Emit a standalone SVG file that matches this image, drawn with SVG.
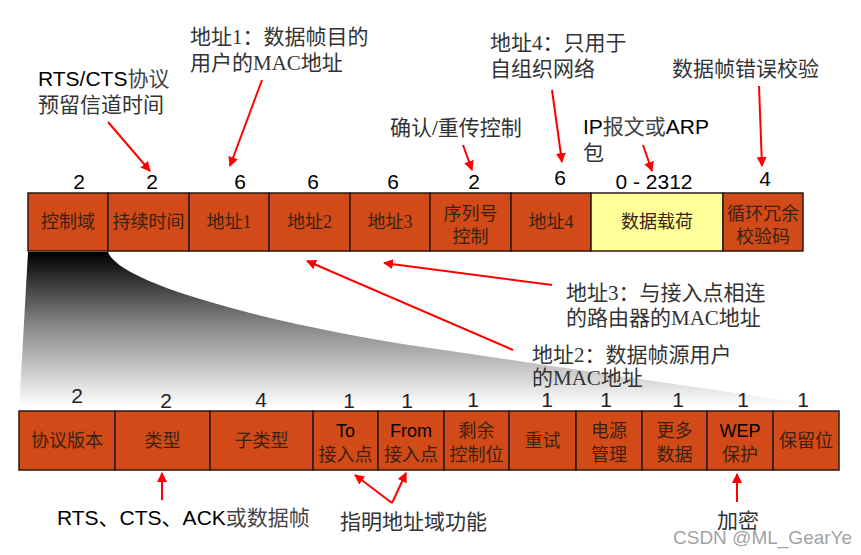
<svg xmlns="http://www.w3.org/2000/svg" width="861" height="555" viewBox="0 0 861 555">
<defs>
<linearGradient id="fade" gradientUnits="userSpaceOnUse" x1="0" y1="252" x2="0" y2="406">
<stop offset="0" stop-color="#000"/>
<stop offset="0.45" stop-color="#808080"/>
<stop offset="1" stop-color="#fff"/>
</linearGradient>
<marker id="ah" viewBox="0 0 10 10" refX="9" refY="5" markerWidth="5" markerHeight="5" orient="auto" markerUnits="strokeWidth">
<path d="M0 0 L10 5 L0 10 Z" fill="#f00"/>
</marker>
<style>
.box{fill:#D24A17;stroke:#2a1a10;stroke-width:1.5}
.pay{fill:#FFFF99;stroke:#2a1a10;stroke-width:1.5}
.bl{font-family:"Liberation Serif","Noto Sans CJK SC",serif;font-size:18px;fill:#3a2212;text-anchor:middle}
.blk{font-family:"Liberation Sans","Noto Sans CJK SC",sans-serif;font-size:18px;fill:#000;text-anchor:middle}
.num{font-family:"Liberation Sans","Noto Sans CJK SC",sans-serif;font-size:21px;fill:#000;text-anchor:middle}
.num2{font-family:"Liberation Sans","Noto Sans CJK SC",sans-serif;font-size:21px;fill:#222;text-anchor:middle}
.ann{font-family:"Liberation Serif","Noto Sans CJK SC",serif;font-size:21px;fill:#333}
.anns{font-family:"Liberation Sans","Noto Sans CJK SC",sans-serif;font-size:21px;fill:#000}
.cn{fill:#444}
.arr{stroke:#f00;stroke-width:2;fill:none;marker-end:url(#ah)}
</style>
</defs>

<path id="zoom-fan" d="M28 252 L108 252 C120 285 280 326 430 348 L836 408 L839 411 L19 411 Z" fill="url(#fade)"/>

<g id="frame-fields">
<g id="f-ctrl"><rect class="box" x="28" y="193" width="80" height="58"/><text class="bl" x="68" y="228">控制域</text><text class="num" x="79" y="189">2</text></g>
<g id="f-dur"><rect class="box" x="108" y="193" width="81" height="58"/><text class="bl" x="148.5" y="228">持续时间</text><text class="num" x="152" y="189">2</text></g>
<g id="f-a1"><rect class="box" x="189" y="193" width="80" height="58"/><text class="bl" x="229" y="228">地址1</text><text class="num" x="240" y="189">6</text></g>
<g id="f-a2"><rect class="box" x="269" y="193" width="81" height="58"/><text class="bl" x="309.5" y="228">地址2</text><text class="num" x="313" y="189">6</text></g>
<g id="f-a3"><rect class="box" x="350" y="193" width="80" height="58"/><text class="bl" x="390" y="228">地址3</text><text class="num" x="393" y="189">6</text></g>
<g id="f-seq"><rect class="box" x="430" y="193" width="81" height="58"/><text class="bl" x="470.5" y="220">序列号</text><text class="bl" x="470.5" y="243">控制</text><text class="num" x="474" y="189">2</text></g>
<g id="f-a4"><rect class="box" x="511" y="193" width="80" height="58"/><text class="bl" x="551" y="228">地址4</text><text class="num" x="560" y="185">6</text></g>
<g id="f-body"><rect class="pay" x="591" y="193" width="132" height="58"/><text class="bl" x="657" y="228">数据载荷</text><text class="num" x="654" y="189">0 - 2312</text></g>
<g id="f-fcs"><rect class="box" x="723" y="193" width="80" height="58"/><text class="bl" x="763" y="220">循环冗余</text><text class="bl" x="763" y="243">校验码</text><text class="num" x="765" y="186">4</text></g>
</g>

<g id="control-fields">
<g id="c-ver"><rect class="box" x="19" y="411" width="96" height="59"/><text class="bl" x="67" y="447">协议版本</text><text class="num2" x="77" y="403">2</text></g>
<g id="c-type"><rect class="box" x="115" y="411" width="95" height="59"/><text class="bl" x="162.5" y="447">类型</text><text class="num2" x="166" y="408">2</text></g>
<g id="c-sub"><rect class="box" x="210" y="411" width="103" height="59"/><text class="bl" x="261.5" y="447">子类型</text><text class="num2" x="261" y="407">4</text></g>
<g id="c-to"><rect class="box" x="313" y="411" width="65" height="59"/><text class="blk" x="345.5" y="437">To</text><text class="bl" x="345.5" y="461">接入点</text><text class="num2" x="349" y="408">1</text></g>
<g id="c-from"><rect class="box" x="378" y="411" width="66" height="59"/><text class="blk" x="411" y="437">From</text><text class="bl" x="411" y="461">接入点</text><text class="num2" x="407" y="408">1</text></g>
<g id="c-more"><rect class="box" x="444" y="411" width="65" height="59"/><text class="bl" x="476.5" y="437">剩余</text><text class="bl" x="476.5" y="461">控制位</text><text class="num2" x="473" y="407">1</text></g>
<g id="c-retry"><rect class="box" x="509" y="411" width="67" height="59"/><text class="bl" x="542.5" y="447">重试</text><text class="num2" x="547" y="407">1</text></g>
<g id="c-pwr"><rect class="box" x="576" y="411" width="66" height="59"/><text class="bl" x="609" y="437">电源</text><text class="bl" x="609" y="461">管理</text><text class="num2" x="606" y="407">1</text></g>
<g id="c-md"><rect class="box" x="642" y="411" width="65" height="59"/><text class="bl" x="674.5" y="437">更多</text><text class="bl" x="674.5" y="461">数据</text><text class="num2" x="678" y="407">1</text></g>
<g id="c-wep"><rect class="box" x="707" y="411" width="66" height="59"/><text class="blk" x="740" y="437">WEP</text><text class="bl" x="740" y="461">保护</text><text class="num2" x="743" y="407">1</text></g>
<g id="c-rsv"><rect class="box" x="773" y="411" width="66" height="59"/><text class="bl" x="806" y="447">保留位</text><text class="num2" x="803" y="407">1</text></g>
</g>

<g id="connectors">
<line class="arr" x1="108" y1="122" x2="150" y2="171"/>
<line class="arr" x1="262" y1="80" x2="230" y2="166"/>
<line class="arr" x1="463" y1="145" x2="472" y2="170"/>
<line class="arr" x1="552" y1="90" x2="562" y2="162"/>
<line class="arr" x1="643" y1="145" x2="652" y2="171"/>
<line class="arr" x1="759" y1="86" x2="762" y2="166"/>
<line class="arr" x1="552" y1="285" x2="384" y2="263"/>
<line class="arr" x1="513" y1="350" x2="307" y2="261"/>
<line class="arr" x1="162" y1="500" x2="162" y2="473"/>
<line class="arr" x1="392" y1="503" x2="355" y2="475"/>
<line class="arr" x1="392" y1="503" x2="406" y2="473"/>
<line class="arr" x1="737" y1="502" x2="737" y2="474"/>
</g>

<g id="notes">
<text class="anns" x="38" y="86">RTS/CTS<tspan class="cn">协议</tspan></text>
<text class="ann" x="38" y="112">预留信道时间</text>
<text class="ann" x="190" y="44">地址1：数据帧目的</text>
<text class="ann" x="190" y="70">用户的MAC地址</text>
<text class="ann" x="390" y="135">确认<tspan fill="#000">/</tspan>重传控制</text>
<text class="ann" x="490" y="50">地址4：只用于</text>
<text class="ann" x="490" y="76">自组织网络</text>
<text class="anns" x="583" y="134">IP<tspan class="cn">报文或</tspan>ARP</text>
<text class="ann" x="583" y="160">包</text>
<text class="ann" x="672" y="76">数据帧错误校验</text>
<text class="ann" x="566" y="300">地址3：与接入点相连</text>
<text class="ann" x="566" y="325">的路由器的MAC地址</text>
<text class="ann" x="532" y="362">地址2：数据帧源用户</text>
<text class="ann" x="532" y="385">的MAC地址</text>
<text class="anns" x="57" y="525">RTS、CTS、ACK<tspan class="cn">或数据帧</tspan></text>
<text class="ann" x="340" y="529">指明地址域功能</text>
<text class="ann" x="717" y="528">加密</text>
<text x="673" y="544" font-family="Liberation Sans, sans-serif" font-size="19" fill="#888" fill-opacity="0.8">CSDN @ML_GearYe</text>
</g>
</svg>
